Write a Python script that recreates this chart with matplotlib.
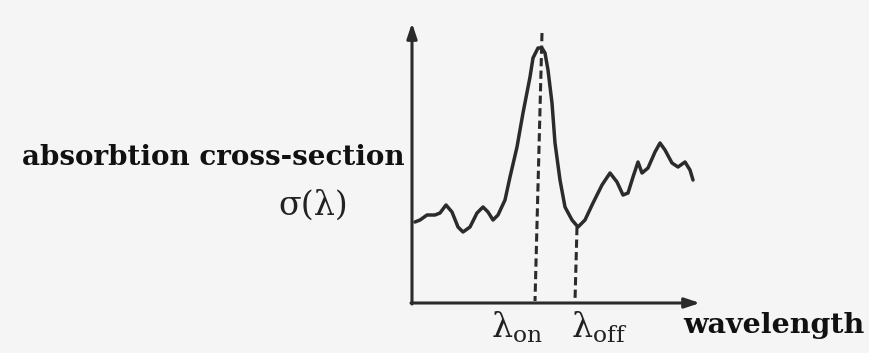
import matplotlib
matplotlib.use("Agg")
import matplotlib.pyplot as plt

# Schematic absorption cross-section (arbitrary units, origin at axes corner)
wavelength = [3, 8, 15, 23, 28, 34, 40, 46, 51, 58, 65, 71, 76, 81, 86, 93,
              98, 105, 111, 118, 121, 126, 130, 133, 136, 140, 143, 148, 153,
              160, 166, 173, 181, 190, 198, 205, 211, 216, 221, 226, 230, 236,
              243, 248, 253, 260, 266, 273, 278, 281]
sigma = [81, 83, 88, 88, 90, 98, 91, 76, 71, 76, 90, 96, 91, 83, 88, 103,
         126, 156, 190, 226, 245, 255, 255, 250, 233, 200, 160, 123, 96,
         83, 76, 83, 100, 118, 130, 121, 108, 110, 126, 141, 130, 135,
         151, 160, 153, 140, 136, 141, 133, 123]
lambda_on = 130
lambda_off = 165
sigma_off = 76

plt.rcParams['mathtext.fontset'] = 'dejavuserif'

fig = plt.figure(figsize=(8.69, 3.53), dpi=100)
fig.patch.set_facecolor('#f5f5f5')
ax = fig.add_axes([0, 0, 1, 1])
ax.set_xlim(-412, 869 - 412)
ax.set_ylim(303 - 353, 303)
ax.axis('off')

ink = '#2b2b2b'
ax.plot(wavelength, sigma, color=ink, lw=2.5, solid_capstyle='round',
        solid_joinstyle='round')

# axes arrows
ax.annotate('', xy=(0, 280), xytext=(0, -1),
            arrowprops=dict(arrowstyle='-|>,head_length=0.9,head_width=0.3',
                            color=ink, lw=2.2, shrinkA=0, shrinkB=0))
ax.annotate('', xy=(288, 0), xytext=(-1, 0),
            arrowprops=dict(arrowstyle='-|>,head_length=0.9,head_width=0.3',
                            color=ink, lw=2.2, shrinkA=0, shrinkB=0))

# dashed markers
ax.plot([lambda_on, lambda_on - 7], [270, 2], color=ink, lw=2.2,
        ls=(0, (2.7, 1.4)))
ax.plot([lambda_off, lambda_off - 2], [sigma_off, 2], color=ink, lw=2.2,
        ls=(0, (2.7, 1.4)))

serif = 'DejaVu Serif'
ax.text(-7, 138, 'absorbtion cross-section', ha='right', va='baseline',
        fontsize=20, fontweight='bold', family=serif, color='#111111')
ax.text(-134, 97, 'σ(λ)', ha='left', va='center', fontsize=24,
        family=serif, color='#222222')
ax.text(105, -35, r'$\mathrm{λ_{on}}$', ha='center', va='baseline',
        fontsize=24, color='#222222')
ax.text(187, -35, r'$\mathrm{λ_{off}}$', ha='center', va='baseline',
        fontsize=24, color='#222222')
ax.text(271, -30, 'wavelength', ha='left', va='baseline', fontsize=20.5,
        fontweight='bold', family=serif, color='#111111')

fig.savefig('out.png', dpi=100, facecolor=fig.get_facecolor())
